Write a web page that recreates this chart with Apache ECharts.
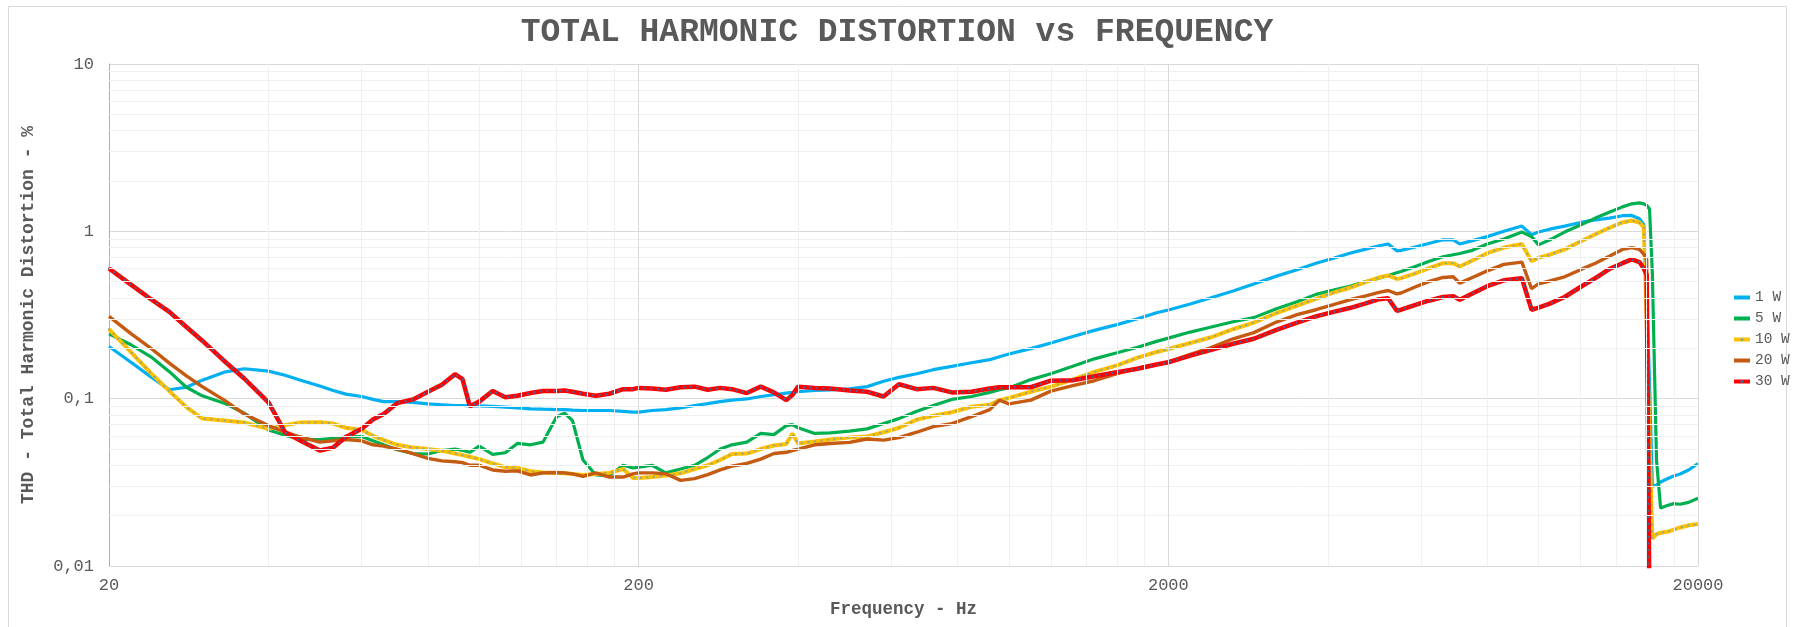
<!DOCTYPE html>
<html>
<head>
<meta charset="utf-8">
<script src="https://cdn.jsdelivr.net/npm/echarts@6/dist/echarts.min.js"></script>
<style>
  html, body { margin: 0; padding: 0; background: #fff; }
  #chart { width: 1794px; height: 627px; }
</style>
</head>
<body>
<div id="chart"></div>
<script>
// frequency points (Hz)
var freqHz = [
  20, 22, 24, 26, 28, 30, 33, 36, 40, 43,
  46, 50, 53, 56, 60, 63, 66, 70, 75, 80,
  85, 90, 93, 96, 100, 106, 112, 118, 125, 132,
  140, 145, 150, 157, 166, 176, 187, 195, 200, 212,
  225, 240, 255, 270, 285, 300, 320, 340, 360, 380,
  390, 400, 430, 460, 500, 540, 580, 620, 670, 720,
  780, 850, 920, 960, 1000, 1100, 1200, 1320, 1450, 1600,
  1750, 1900, 2000, 2200, 2400, 2650, 2900, 3200, 3500, 3800,
  4100, 4400, 4700, 5000, 5200, 5400, 5500, 5800, 6200, 6600,
  6900, 7100, 7500, 8000, 8600, 9300, 9700, 10000, 10500, 11200,
  12000, 12800, 13600, 14400, 15000, 15500, 15800, 16000, 16200, 16400,
  16700, 17000, 17500, 18000, 18500, 19200, 20000
];

// THD in %
var thd1W = [
  0.205, 0.165, 0.135, 0.113, 0.117, 0.129, 0.144, 0.151, 0.146, 0.138,
  0.129, 0.119, 0.112, 0.1065, 0.103, 0.099, 0.096, 0.096, 0.095, 0.093,
  0.092, 0.091, 0.091, 0.0905, 0.0905, 0.090, 0.089, 0.088, 0.087, 0.0865,
  0.086, 0.086, 0.0855, 0.085, 0.085, 0.085, 0.084, 0.083, 0.083, 0.085,
  0.086, 0.088, 0.091, 0.0935, 0.096, 0.098, 0.0996, 0.103, 0.1055, 0.108,
  0.109, 0.110, 0.112, 0.113, 0.1145, 0.118, 0.127, 0.134, 0.141, 0.149,
  0.156, 0.164, 0.171, 0.178, 0.185, 0.199, 0.215, 0.235, 0.256, 0.277,
  0.300, 0.326, 0.339, 0.368, 0.40, 0.44, 0.485, 0.54, 0.59, 0.645,
  0.69, 0.74, 0.78, 0.82, 0.84, 0.765, 0.77, 0.80, 0.845, 0.89,
  0.89, 0.84, 0.88, 0.93, 1.0, 1.075, 0.955, 0.99, 1.03, 1.075,
  1.13, 1.17, 1.20, 1.24, 1.245, 1.19, 1.1, 0.42, 0.125, 0.030,
  0.0305, 0.0318, 0.0332, 0.0345, 0.0355, 0.0375, 0.041
];
var thd5W = [
  0.244, 0.21, 0.178, 0.145, 0.117, 0.104, 0.094, 0.082, 0.065, 0.0605,
  0.057, 0.057, 0.058, 0.059, 0.0595, 0.056, 0.053, 0.0495, 0.047, 0.0467,
  0.049, 0.050, 0.049, 0.0478, 0.052, 0.0465, 0.0475, 0.054, 0.053, 0.055,
  0.078, 0.082, 0.074, 0.043, 0.035, 0.0347, 0.040, 0.0385, 0.039, 0.040,
  0.036, 0.038, 0.040, 0.0445, 0.050, 0.053, 0.055, 0.062, 0.061, 0.069,
  0.070, 0.067, 0.062, 0.0625, 0.064, 0.066, 0.071, 0.076, 0.084, 0.091,
  0.099, 0.103, 0.109, 0.113, 0.116, 0.130, 0.141, 0.156, 0.173, 0.188,
  0.203, 0.220, 0.23, 0.25, 0.267, 0.288, 0.305, 0.345, 0.38, 0.42,
  0.445, 0.47, 0.50, 0.525, 0.545, 0.565, 0.575, 0.61, 0.66, 0.705,
  0.725, 0.737, 0.77, 0.84, 0.90, 0.99, 0.93, 0.83, 0.89, 0.99,
  1.09, 1.2, 1.30, 1.40, 1.46, 1.48, 1.46, 1.43, 1.36, 0.56,
  0.043, 0.0222, 0.023, 0.0236, 0.0234, 0.024, 0.0254
];
var thd10W = [
  0.26, 0.19, 0.142, 0.111, 0.089, 0.076, 0.074, 0.072, 0.066, 0.0695,
  0.072, 0.0722, 0.071, 0.067, 0.065, 0.060, 0.0565, 0.053, 0.051, 0.050,
  0.0488, 0.047, 0.046, 0.045, 0.0435, 0.041, 0.039, 0.0385, 0.0368, 0.0362,
  0.036, 0.0358, 0.0355, 0.035, 0.0355, 0.036, 0.038, 0.0336, 0.0336, 0.034,
  0.0347, 0.0358, 0.038, 0.040, 0.043, 0.0467, 0.047, 0.050, 0.0525, 0.0536,
  0.062, 0.054, 0.0555, 0.057, 0.0587, 0.0595, 0.063, 0.067, 0.075, 0.0791,
  0.083, 0.0895, 0.092, 0.098, 0.101, 0.11, 0.118, 0.13, 0.1445, 0.158,
  0.176, 0.19, 0.198, 0.215, 0.232, 0.26, 0.285, 0.325, 0.36, 0.395,
  0.43, 0.46, 0.495, 0.53, 0.545, 0.52, 0.525, 0.555, 0.60, 0.645,
  0.645, 0.616, 0.67, 0.74, 0.80, 0.84, 0.663, 0.695, 0.725, 0.78,
  0.87, 0.96, 1.05, 1.13, 1.16, 1.13, 1.06, 0.30, 0.055, 0.0146,
  0.0155, 0.0158, 0.016, 0.0165, 0.017, 0.0175, 0.0178
];
var thd20W = [
  0.31, 0.245, 0.20, 0.163, 0.137, 0.118, 0.098, 0.081, 0.069, 0.063,
  0.059, 0.055, 0.056, 0.057, 0.056, 0.053, 0.052, 0.050, 0.047, 0.044,
  0.0425, 0.042, 0.0415, 0.040, 0.040, 0.0375, 0.0368, 0.037, 0.035, 0.036,
  0.0362, 0.036, 0.0355, 0.0343, 0.036, 0.034, 0.034, 0.0355, 0.036, 0.036,
  0.0356, 0.0325, 0.0333, 0.0352, 0.0375, 0.0395, 0.041, 0.0435, 0.047, 0.0478,
  0.049, 0.050, 0.053, 0.054, 0.0548, 0.0574, 0.0565, 0.0585, 0.063, 0.068,
  0.071, 0.078, 0.086, 0.098, 0.093, 0.098, 0.111, 0.1196, 0.128, 0.141,
  0.152, 0.160, 0.165, 0.184, 0.201, 0.228, 0.248, 0.287, 0.318, 0.340,
  0.365, 0.39, 0.41, 0.432, 0.443, 0.423, 0.428, 0.46, 0.50, 0.53,
  0.535, 0.49, 0.53, 0.58, 0.635, 0.655, 0.455, 0.485, 0.505, 0.535,
  0.59, 0.645, 0.71, 0.78, 0.80, 0.78, 0.73, 0.68, 0.005, null,
  null, null, null, null, null, null, null
];
var thd30W = [
  0.60, 0.48, 0.393, 0.33, 0.268, 0.222, 0.168, 0.132, 0.095, 0.063,
  0.056, 0.049, 0.051, 0.059, 0.066, 0.075, 0.081, 0.094, 0.099, 0.110,
  0.121, 0.140, 0.131, 0.090, 0.096, 0.111, 0.102, 0.104, 0.108, 0.111,
  0.111, 0.112, 0.110, 0.107, 0.104, 0.107, 0.114, 0.114, 0.116, 0.115,
  0.113, 0.117, 0.118, 0.113, 0.116, 0.114, 0.108, 0.118, 0.109, 0.098,
  0.105, 0.118, 0.116, 0.115, 0.112, 0.110, 0.103, 0.122, 0.114, 0.116,
  0.109, 0.110, 0.115, 0.117, 0.117, 0.117, 0.128, 0.129, 0.136, 0.144,
  0.151, 0.160, 0.165, 0.181, 0.195, 0.213, 0.228, 0.258, 0.285, 0.31,
  0.33, 0.348, 0.370, 0.393, 0.398, 0.335, 0.34, 0.36, 0.385, 0.405,
  0.41, 0.39, 0.425, 0.47, 0.51, 0.525, 0.34, 0.35, 0.37, 0.405,
  0.465, 0.525, 0.595, 0.645, 0.68, 0.655, 0.60, 0.55, 0.005, null,
  null, null, null, null, null, null, null
];

var xLabelValues = [20, 200, 2000, 20000];
var xMajorGrid = [200, 2000, 20000];
var xMinorGrid = [40, 60, 80, 100, 120, 140, 160, 180,
  400, 600, 800, 1000, 1200, 1400, 1600, 1800,
  4000, 6000, 8000, 10000, 12000, 14000, 16000, 18000];
var yMinorGrid = [0.02, 0.03, 0.04, 0.05, 0.06, 0.07, 0.08, 0.09,
  0.2, 0.3, 0.4, 0.5, 0.6, 0.7, 0.8, 0.9,
  2, 3, 4, 5, 6, 7, 8, 9];

var FONT = 'Liberation Mono';
var GREY = '#595959';

function pairs(values) {
  var out = [];
  for (var i = 0; i < freqHz.length; i++) {
    if (values[i] != null) out.push([freqHz[i], values[i]]);
  }
  return out;
}

// dotColor only for the dotted series, the legend dot takes that colour
function curve(name, values, color, width, dotColor) {
  return {
    name: name,
    type: 'line',
    data: pairs(values),
    showSymbol: false,
    symbol: 'circle',
    itemStyle: { color: dotColor || color },
    lineStyle: { color: color, width: width },
    emphasis: { disabled: true },
    z: 3
  };
}

function dots(values, color) {
  return {
    type: 'line',
    data: pairs(values),
    showSymbol: false,
    symbol: 'none',
    silent: true,
    lineStyle: { color: color, width: 2.2, type: [0.1, 6.5], cap: 'round' },
    emphasis: { disabled: true },
    z: 3
  };
}

var gridLines = [];
xMinorGrid.forEach(function (v) { gridLines.push({ xAxis: v }); });
yMinorGrid.forEach(function (v) { gridLines.push({ yAxis: v }); });
xMajorGrid.forEach(function (v) {
  gridLines.push({ xAxis: v, lineStyle: { color: '#d9d9d9' } });
});

var myChart = echarts.init(document.getElementById('chart'));
var option = {
  animation: false,
  backgroundColor: '#ffffff',
  title: {
    text: 'TOTAL HARMONIC DISTORTION vs FREQUENCY',
    left: 'center',
    top: 11,
    textStyle: { fontFamily: FONT, fontSize: 33, fontWeight: 'bold', color: GREY }
  },
  graphic: [{
    type: 'rect',
    shape: { x: 8.5, y: 6.5, width: 1778, height: 640 },
    style: { fill: 'none', stroke: '#d9d9d9', lineWidth: 1 },
    silent: true
  }],
  legend: {
    orient: 'vertical',
    left: 1727,
    top: 285,
    itemWidth: 16,
    itemHeight: 4,
    itemGap: 6,
    lineStyle: { width: 4 },
    data: ['1 W', '5 W', '10 W', '20 W', '30 W'],
    textStyle: { fontFamily: FONT, fontSize: 14.5, color: GREY }
  },
  grid: { left: 109, right: 96, top: 64, bottom: 61 },
  xAxis: {
    type: 'log',
    logBase: 10,
    min: 20,
    max: 20000,
    name: 'Frequency - Hz',
    nameLocation: 'middle',
    nameGap: 35,
    nameTextStyle: { fontFamily: FONT, fontSize: 17.5, fontWeight: 'bold', color: GREY },
    axisLine: { show: true, lineStyle: { color: '#d9d9d9', width: 1 } },
    axisTick: { show: false },
    splitLine: { show: false },
    axisLabel: {
      customValues: xLabelValues,
      margin: 11,
      fontFamily: FONT,
      fontSize: 17,
      color: GREY,
      formatter: function (v) { return String(Math.round(v)); }
    }
  },
  yAxis: {
    type: 'log',
    logBase: 10,
    min: 0.01,
    max: 10,
    name: 'THD - Total Harmonic Distortion - %',
    nameLocation: 'middle',
    nameGap: 72,
    nameTextStyle: { fontFamily: FONT, fontSize: 18, fontWeight: 'bold', color: GREY },
    axisLine: { show: true, lineStyle: { color: '#8fb4de', width: 1 } },
    axisTick: { show: false },
    splitLine: { show: true, lineStyle: { color: '#d9d9d9', width: 1 } },
    axisLabel: {
      margin: 15,
      fontFamily: FONT,
      fontSize: 17,
      color: GREY,
      formatter: function (v) { return String(+v.toPrecision(6)).replace('.', ','); }
    }
  },
  series: [
    {
      type: 'line',
      data: [],
      silent: true,
      z: 1,
      markLine: {
        silent: true,
        symbol: ['none', 'none'],
        label: { show: false },
        lineStyle: { color: '#f0f0f0', width: 1, type: 'solid' },
        emphasis: { disabled: true },
        data: gridLines
      }
    },
    curve('1 W', thd1W, '#00b0f0', 3.2),
    curve('5 W', thd5W, '#00b050', 3.2),
    curve('10 W', thd10W, '#ffc000', 4, '#8ea889'),
    dots(thd10W, '#8ea889'),
    curve('20 W', thd20W, '#c55a11', 3.4),
    curve('30 W', thd30W, '#ff0000', 4.5, '#41679e'),
    dots(thd30W, '#41679e')
  ]
};
myChart.setOption(option);
</script>
</body>
</html>
